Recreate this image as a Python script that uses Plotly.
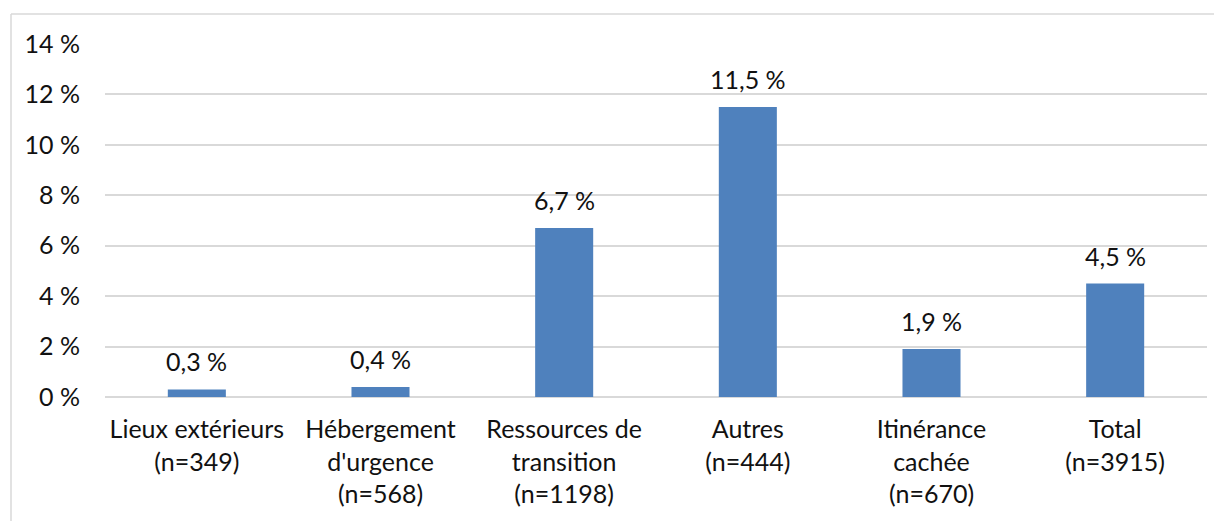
import plotly.graph_objects as go

categories = ["Lieux extérieurs<br>(n=349)", "Hébergement<br>d'urgence<br>(n=568)",
              "Ressources de<br>transition<br>(n=1198)", "Autres<br>(n=444)",
              "Itinérance<br>cachée<br>(n=670)", "Total<br>(n=3915)"]
values = [0.3, 0.4, 6.7, 11.5, 1.9, 4.5]
labels = [f"{v:.1f}".replace(".", ",") + " %" for v in values]
y_ticks = [0, 2, 4, 6, 8, 10, 12, 14]
y_tick_text = [f"{t} %" for t in y_ticks]

FONT = "Lato"
TXT = "#111111"
FS = 25

fig = go.Figure(go.Bar(x=categories, y=values, marker=dict(color="#4F81BD", line=dict(width=0)),
                       hoverinfo="skip"))

for c, v, t in zip(categories, values, labels):
    fig.add_annotation(x=c, y=v, text=t, showarrow=False, yanchor="bottom", yshift=11,
                       font=dict(family=FONT, size=FS, color=TXT))

fig.update_layout(
    width=1214, height=513,
    margin=dict(l=97, r=15, t=36, b=124, autoexpand=False),
    paper_bgcolor="white", plot_bgcolor="white",
    bargap=0.684, showlegend=False,
    font=dict(family=FONT, size=FS, color=TXT),
    xaxis=dict(showgrid=False, showline=False, ticks="", tickfont=dict(family=FONT, size=FS, color=TXT),
               ticklabelstandoff=15, fixedrange=True, automargin=False),
    yaxis=dict(range=[0, 14], tickvals=y_ticks, ticktext=y_tick_text, showgrid=True, gridcolor="#d9d9d9",
               gridwidth=1.5, zeroline=True, zerolinecolor="#d9d9d9", zerolinewidth=1.5,
               showline=False, ticks="", ticklabelstandoff=24, automargin=False,
               tickfont=dict(family=FONT, size=FS, color=TXT), fixedrange=True),
    shapes=[
        dict(type="line", xref="paper", yref="paper", x0=-0.0853, x1=1.2, y0=1.085, y1=1.085,
             line=dict(color="#d9d9d9", width=1.5)),
        dict(type="line", xref="paper", yref="paper", x0=-0.0853, x1=-0.0853, y0=1.085, y1=-0.5,
             line=dict(color="#d9d9d9", width=1.5)),
    ],
)

fig.write_html("out.html")
